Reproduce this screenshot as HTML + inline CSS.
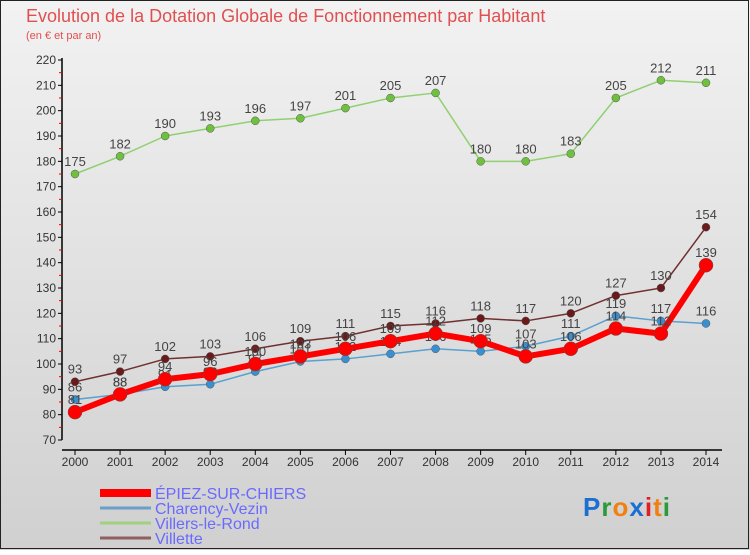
<!DOCTYPE html>
<html><head><meta charset="utf-8"><style>
body{margin:0;width:750px;height:550px;overflow:hidden;font-family:"Liberation Sans",sans-serif}
</style></head><body>
<svg id="c" width="750" height="550" xmlns="http://www.w3.org/2000/svg">
<defs><linearGradient id="bg" x1="0" y1="0" x2="0" y2="1"><stop offset="0" stop-color="#f2f2f2"/><stop offset="1" stop-color="#d0d0d0"/></linearGradient></defs>
<rect x="0" y="0" width="750" height="550" fill="url(#bg)"/>
<rect x="0.5" y="0.5" width="748" height="548" fill="none" stroke="#222"/>
<text x="26" y="22" font-size="18" fill="#e05050">Evolution de la Dotation Globale de Fonctionnement par Habitant</text>
<text x="26" y="39" font-size="11" fill="#e05050">(en € et par an)</text>
<g id="axes"></g><g id="series"></g><g id="legend"></g>
<text x="583" y="516" font-size="26" font-weight="bold" style="letter-spacing:1px"><tspan fill="#1a6fd0">P</tspan><tspan fill="#2a9a3a">r</tspan><tspan fill="#f08010">o</tspan><tspan fill="#1a6fd0">x</tspan><tspan fill="#e02020">i</tspan><tspan fill="#f08010">t</tspan><tspan fill="#2a9a3a">i</tspan></text>
</svg>
<script>
const years=[2000,2001,2002,2003,2004,2005,2006,2007,2008,2009,2010,2011,2012,2013,2014];
const yTicks=[70,80,90,100,110,120,130,140,150,160,170,180,190,200,210,220];
const epiez=[81,88,94,96,100,103,106,109,112,109,103,106,114,112,139];
const charency=[86,88,91,92,97,101,102,104,106,105,107,111,119,117,116];
const villers=[175,182,190,193,196,197,201,205,207,180,180,183,205,212,211];
const villette=[93,97,102,103,106,109,111,115,116,118,117,120,127,130,154];
const NS='http://www.w3.org/2000/svg';
const X=i=>75+i*(706-75)/(years.length-1);
const Y=v=>440-(v-70)*(380/150);
function mk(t,a,p){const e=document.createElementNS(NS,t);for(const k in a)e.setAttribute(k,a[k]);p.appendChild(e);return e;}
const ax=document.getElementById('axes');
let l=mk('line',{x1:62,y1:58,x2:62,y2:440,stroke:'#000','stroke-width':1.5},ax);

l=mk('line',{x1:62,y1:450,x2:722,y2:450,stroke:'#000','stroke-width':1.5},ax);

yTicks.forEach((v,i)=>{
 const y=Y(v);
 mk('line',{x1:58,y1:y,x2:62,y2:y,stroke:'#000'},ax);
 if(i<yTicks.length-1){const m=(y+Y(yTicks[i+1]))/2;mk('line',{x1:59,y1:m,x2:62,y2:m,stroke:'#e00'},ax);}
 const t=mk('text',{x:56,y:y+4,'font-size':12,'text-anchor':'end',fill:'#333'},ax);
 t.textContent=v;
});
years.forEach((yr,i)=>{
 mk('line',{x1:X(i),y1:450,x2:X(i),y2:455,stroke:'#000'},ax);
 const t=mk('text',{x:X(i),y:466,'font-size':12,'text-anchor':'middle',fill:'#333'},ax);
 t.textContent=yr;
});
const sg=document.getElementById('series');
function draw(name,vals,col,w,r,dot){
 const g=mk('g',{},sg);
 
 const p=mk('polyline',{points:vals.map((v,i)=>X(i)+','+Y(v)).join(' '),fill:'none',stroke:col,'stroke-width':w,'stroke-linejoin':'round'},g);
 
 vals.forEach((v,i)=>{
  const c=mk('circle',{cx:X(i),cy:Y(v),r:r,fill:dot,stroke:'#555','stroke-width':0.5},g);
  
  const t=mk('text',{x:X(i),y:Y(v)-8,'font-size':13,'text-anchor':'middle',fill:'#444'},g);
  t.textContent=v;
 });
}
draw('charency',charency,'#5aa0d0',1.5,4,'#3a8fd0');
draw('villers',villers,'#90d070',1.5,4,'#70c040');
draw('villette',villette,'#703030',1.5,4,'#6a1a1a');
draw('epiez',epiez,'#ff0000',6,7,'#ff0000');
const lg=document.getElementById('legend');
[['ÉPIEZ-SUR-CHIERS','#ff0000',8],['Charency-Vezin','#6aa0c8',3],['Villers-le-Rond','#a0d080',3],['Villette','#906060',3]].forEach((d,i)=>{
 const y=493+i*15;
 const g=mk('g',{},lg);
 
 mk('line',{x1:100,y1:y,x2:151,y2:y,stroke:d[1],'stroke-width':d[2]},g);
 const t=mk('text',{x:155,y:y+6,'font-size':16,fill:'#6a6aff'},g);t.textContent=d[0];
});
</script>
</body></html>
